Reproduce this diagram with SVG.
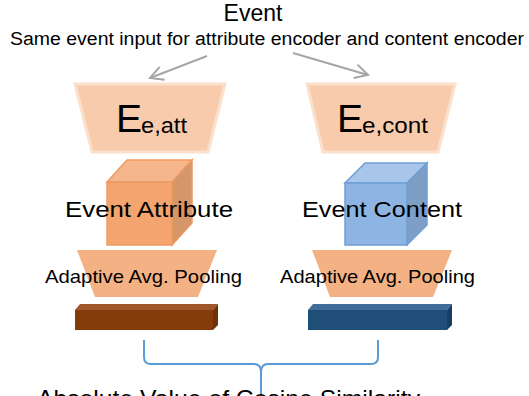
<svg xmlns="http://www.w3.org/2000/svg" width="529" height="396" viewBox="0 0 529 396">
<style>
text{font-family:"Liberation Sans",Arial,sans-serif;fill:#000}
.enc{fill:#f8cbad;stroke:#fbe0cc;stroke-width:3;stroke-linejoin:miter}
.pool{fill:#f4b183}
.arr{stroke:#a6a6a6;stroke-width:2;fill:none}
.brace{stroke:#5b9bd5;stroke-width:2;fill:none}
</style>
<defs>
<marker id="ah" markerUnits="userSpaceOnUse" markerWidth="18" markerHeight="18" refX="15" refY="8" orient="auto">
<path d="M2,1 L15,8 L2,15" fill="none" stroke="#a6a6a6" stroke-width="2"/>
</marker>
</defs>
<rect width="529" height="396" fill="#fff"/>
<g id="title">
<text x="253" y="21" font-size="23" text-anchor="middle">Event</text>
<text x="10" y="45" font-size="18" textLength="514" lengthAdjust="spacingAndGlyphs">Same event input for attribute encoder and content encoder</text>
</g>
<g id="connectors">
<line class="arr" x1="207" y1="56" x2="150" y2="78" marker-end="url(#ah)"/>
<line class="arr" x1="293" y1="53" x2="368" y2="75" marker-end="url(#ah)"/>
<path class="brace" d="M144,340 V357 Q144,364 151,364 H254 Q261,364 261,372 V396 M261,372 Q261,364 268,364 H371 Q378,364 378,357 V340"/>
</g>
<g id="enc-att">
<polygon class="enc" points="75,84 225,84 208,152 92,152"/>
<text x="116" y="132" font-size="39">E</text>
<text x="141" y="133" font-size="22" textLength="46" lengthAdjust="spacingAndGlyphs">e,att</text>
</g>
<g id="enc-cont">
<polygon class="enc" points="307,84 455,84 438,152 323,152"/>
<text x="337" y="132" font-size="39">E</text>
<text x="362" y="133" font-size="22" textLength="66" lengthAdjust="spacingAndGlyphs">e,cont</text>
</g>
<g id="cube-att">
<polygon points="107,182 127,160 192,160 172,182" fill="#f6b68c" stroke="#ee9a62" stroke-width="1.5"/>
<polygon points="172,182 192,160 192,223 172,245" fill="#d59669" stroke="#ee9a62" stroke-width="1.5"/>
<rect x="107" y="182" width="65" height="63" fill="#f4a56f" stroke="#ee9a62" stroke-width="1.5"/>
<text x="149" y="217" font-size="22" text-anchor="middle" textLength="168" lengthAdjust="spacingAndGlyphs">Event Attribute</text>
</g>
<g id="cube-cont">
<polygon points="345,183 365,163 427,163 407,183" fill="#a8c6ea" stroke="#6f9fd3" stroke-width="1.5"/>
<polygon points="407,183 427,163 427,225 407,245" fill="#7d9fc6" stroke="#6f9fd3" stroke-width="1.5"/>
<rect x="345" y="183" width="62" height="62" fill="#8db4e2" stroke="#6f9fd3" stroke-width="1.5"/>
<text x="382" y="217" font-size="22" text-anchor="middle" textLength="160" lengthAdjust="spacingAndGlyphs">Event Content</text>
</g>
<g id="pool-att">
<polygon class="pool" points="77,250 217,250 198,297 95,297"/>
<text x="143.5" y="283" font-size="19" text-anchor="middle" textLength="197" lengthAdjust="spacingAndGlyphs">Adaptive Avg. Pooling</text>
</g>
<g id="pool-cont">
<polygon class="pool" points="312,250 452,250 433,297 330,297"/>
<text x="377.5" y="283" font-size="19" text-anchor="middle" textLength="195" lengthAdjust="spacingAndGlyphs">Adaptive Avg. Pooling</text>
</g>
<g id="bar-att">
<polygon points="75,310 80,304 218,304 213,310" fill="#a0582a"/>
<polygon points="213,310 218,304 218,325 213,330" fill="#6e320a"/>
<rect x="75" y="310" width="138" height="20" fill="#843c0c"/>
</g>
<g id="bar-cont">
<polygon points="308,310 313,304 452,304 447,310" fill="#3f6c98"/>
<polygon points="447,310 452,304 452,325 447,330" fill="#183f63"/>
<rect x="308" y="310" width="139" height="20" fill="#1f4e79"/>
</g>
<g id="result">
<text x="37" y="407" font-size="24" textLength="383" lengthAdjust="spacingAndGlyphs">Absolute Value of Cosine Similarity</text>
</g>
</svg>
